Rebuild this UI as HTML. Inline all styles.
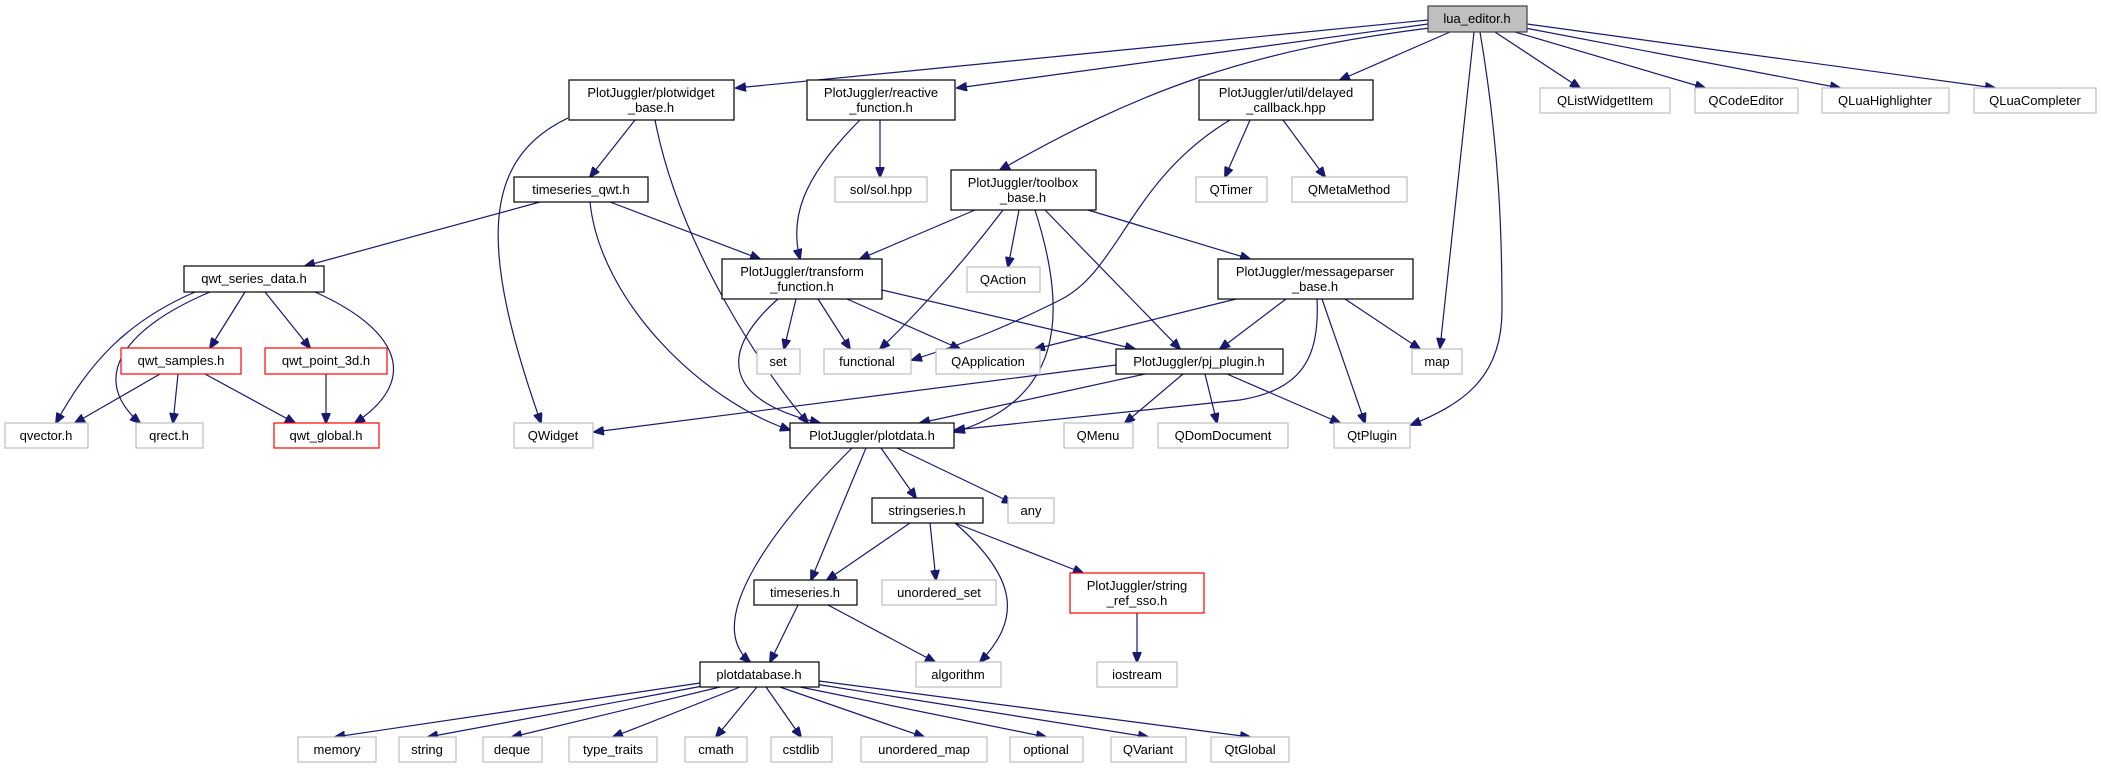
<!DOCTYPE html>
<html><head><meta charset="utf-8"><style>
html,body{margin:0;padding:0;background:#fff}
svg{display:block}
text{font-family:"Liberation Sans",sans-serif;font-size:13px;fill:#000;text-anchor:middle}
.e{fill:none;stroke:#191970;stroke-width:1.2}
.b{fill:#fff;stroke:#000;stroke-width:1.2}
.g{fill:#fff;stroke:#bfbfbf;stroke-width:1.2}
.r{fill:#fff;stroke:#ff0000;stroke-width:1.2}
</style></head><body>
<svg width="2101" height="768" viewBox="0 0 2101 768" xmlns="http://www.w3.org/2000/svg">
<defs><marker id="a" markerWidth="11" markerHeight="9" refX="10" refY="4.5" orient="auto" markerUnits="userSpaceOnUse"><path d="M0,0 L11,4.5 L0,9 z" fill="#191970" stroke="#191970"/></marker></defs>
<g class="e" marker-end="url(#a)">
<path d="M1428,20 L736,88"/>
<path d="M1428,24 L957,88"/>
<path d="M1430,28 C1250,50 1140,90 1000,170"/>
<path d="M1450,32 L1340,80"/>
<path d="M1495,32 L1580,88"/>
<path d="M1515,32 L1705,88"/>
<path d="M1525,28 L1840,88"/>
<path d="M1527,24 L1995,88"/>
<path d="M1474,32 L1440,348"/>
<path d="M1480,32 C1500,150 1502,240 1502,310 C1502,380 1460,405 1411,425"/>
<path d="M635,120 L590,177"/>
<path d="M568,118 C480,160 480,250 541,423"/>
<path d="M655,120 C680,250 770,380 808,423"/>
<path d="M880,120 L880,177"/>
<path d="M860,120 C800,180 790,220 800,259"/>
<path d="M540,202 L305,266"/>
<path d="M610,202 L760,259"/>
<path d="M590,202 C600,300 700,400 790,430"/>
<path d="M195,292 C130,320 90,360 56,423"/>
<path d="M210,292 C120,330 90,380 140,423"/>
<path d="M245,292 L210,348"/>
<path d="M265,292 L310,348"/>
<path d="M315,292 C400,330 420,380 355,423"/>
<path d="M160,374 L75,423"/>
<path d="M178,374 L173,423"/>
<path d="M205,374 L295,423"/>
<path d="M326,374 L326,423"/>
<path d="M975,210 L860,259"/>
<path d="M1003,210 C950,280 900,330 880,349"/>
<path d="M1019,210 L1008,267"/>
<path d="M1035,210 C1070,320 1060,400 955,432"/>
<path d="M1045,210 L1180,349"/>
<path d="M1088,210 L1250,259"/>
<path d="M1250,120 L1225,177"/>
<path d="M1283,120 L1325,177"/>
<path d="M1230,120 C1130,180 1120,270 1060,300 C1000,330 960,345 912,360"/>
<path d="M796,299 L784,349"/>
<path d="M818,299 L850,349"/>
<path d="M847,299 L960,349"/>
<path d="M882,290 L1135,349"/>
<path d="M778,299 C720,350 720,400 820,423"/>
<path d="M1236,299 L1035,349"/>
<path d="M1286,299 L1220,349"/>
<path d="M1317,299 C1320,360 1300,390 1240,400 L955,430"/>
<path d="M1322,299 L1365,423"/>
<path d="M1345,299 L1420,349"/>
<path d="M1116,365 L594,432"/>
<path d="M1145,374 L920,423"/>
<path d="M1183,374 L1125,423"/>
<path d="M1205,374 L1217,423"/>
<path d="M1227,374 L1340,423"/>
<path d="M852,448 C780,520 700,620 750,662"/>
<path d="M866,448 L811,580"/>
<path d="M881,448 L916,498"/>
<path d="M897,448 L1012,503"/>
<path d="M910,523 L827,580"/>
<path d="M930,523 L936,580"/>
<path d="M955,523 C1020,580 1020,620 980,662"/>
<path d="M955,523 L1083,573"/>
<path d="M798,605 L770,662"/>
<path d="M828,605 L935,662"/>
<path d="M1137,613 L1137,662"/>
<path d="M700,683 L335,737"/>
<path d="M703,686 L428,737"/>
<path d="M720,687 L512,737"/>
<path d="M740,687 L613,737"/>
<path d="M757,687 L716,737"/>
<path d="M766,687 L801,737"/>
<path d="M780,687 L924,737"/>
<path d="M800,687 L1046,737"/>
<path d="M815,684 L1148,737"/>
<path d="M819,681 L1250,737"/>
</g>
<!-- nodes -->
<rect x="1428" y="6" width="99" height="26" fill="#bfbfbf" stroke="#404040" stroke-width="1.2"/><text x="1477" y="23">lua_editor.h</text>
<rect class="b" x="569" y="80" width="165" height="40"/><text x="651" y="97">PlotJuggler/plotwidget</text><text x="651" y="112">_base.h</text>
<rect class="b" x="807" y="80" width="148" height="40"/><text x="881" y="97">PlotJuggler/reactive</text><text x="881" y="112">_function.h</text>
<rect class="b" x="1199" y="80" width="174" height="40"/><text x="1286" y="97">PlotJuggler/util/delayed</text><text x="1286" y="112">_callback.hpp</text>
<rect class="g" x="1540" y="88" width="130" height="25"/><text x="1605" y="105">QListWidgetItem</text>
<rect class="g" x="1695" y="88" width="103" height="25"/><text x="1746" y="105">QCodeEditor</text>
<rect class="g" x="1822" y="88" width="127" height="25"/><text x="1885" y="105">QLuaHighlighter</text>
<rect class="g" x="1974" y="88" width="122" height="25"/><text x="2035" y="105">QLuaCompleter</text>
<rect class="b" x="514" y="177" width="134" height="25"/><text x="581" y="194">timeseries_qwt.h</text>
<rect class="g" x="835" y="177" width="92" height="25"/><text x="881" y="194">sol/sol.hpp</text>
<rect class="b" x="951" y="170" width="145" height="40"/><text x="1023" y="187">PlotJuggler/toolbox</text><text x="1023" y="202">_base.h</text>
<rect class="g" x="1196" y="177" width="71" height="25"/><text x="1231" y="194">QTimer</text>
<rect class="g" x="1292" y="177" width="115" height="25"/><text x="1349" y="194">QMetaMethod</text>
<rect class="b" x="184" y="266" width="140" height="26"/><text x="254" y="283">qwt_series_data.h</text>
<rect class="b" x="722" y="259" width="160" height="40"/><text x="802" y="276">PlotJuggler/transform</text><text x="802" y="291">_function.h</text>
<rect class="g" x="967" y="267" width="73" height="25"/><text x="1003" y="284">QAction</text>
<rect class="b" x="1218" y="259" width="195" height="40"/><text x="1315" y="276">PlotJuggler/messageparser</text><text x="1315" y="291">_base.h</text>
<rect class="r" x="121" y="348" width="120" height="26"/><text x="181" y="365">qwt_samples.h</text>
<rect class="r" x="265" y="348" width="122" height="26"/><text x="326" y="365">qwt_point_3d.h</text>
<rect class="g" x="757" y="349" width="43" height="25"/><text x="778" y="366">set</text>
<rect class="g" x="824" y="349" width="87" height="25"/><text x="867" y="366">functional</text>
<rect class="g" x="936" y="349" width="104" height="25"/><text x="988" y="366">QApplication</text>
<rect class="b" x="1116" y="349" width="167" height="25"/><text x="1199" y="366">PlotJuggler/pj_plugin.h</text>
<rect class="g" x="1412" y="349" width="50" height="25"/><text x="1437" y="366">map</text>
<rect class="g" x="5" y="423" width="83" height="25"/><text x="46" y="440">qvector.h</text>
<rect class="g" x="136" y="423" width="67" height="25"/><text x="169" y="440">qrect.h</text>
<rect class="r" x="274" y="423" width="105" height="25"/><text x="326" y="440">qwt_global.h</text>
<rect class="g" x="514" y="423" width="79" height="25"/><text x="553" y="440">QWidget</text>
<rect class="b" x="790" y="423" width="164" height="25"/><text x="872" y="440">PlotJuggler/plotdata.h</text>
<rect class="g" x="1064" y="423" width="69" height="25"/><text x="1098" y="440">QMenu</text>
<rect class="g" x="1158" y="423" width="130" height="25"/><text x="1223" y="440">QDomDocument</text>
<rect class="g" x="1334" y="423" width="76" height="25"/><text x="1372" y="440">QtPlugin</text>
<rect class="b" x="872" y="498" width="111" height="25"/><text x="927" y="515">stringseries.h</text>
<rect class="g" x="1008" y="498" width="46" height="25"/><text x="1031" y="515">any</text>
<rect class="b" x="754" y="580" width="103" height="25"/><text x="805" y="597">timeseries.h</text>
<rect class="g" x="882" y="580" width="114" height="25"/><text x="939" y="597">unordered_set</text>
<rect class="r" x="1070" y="573" width="134" height="40"/><text x="1137" y="590">PlotJuggler/string</text><text x="1137" y="605">_ref_sso.h</text>
<rect class="b" x="700" y="662" width="119" height="25"/><text x="759" y="679">plotdatabase.h</text>
<rect class="g" x="916" y="662" width="85" height="25"/><text x="958" y="679">algorithm</text>
<rect class="g" x="1097" y="662" width="80" height="25"/><text x="1137" y="679">iostream</text>
<rect class="g" x="298" y="737" width="78" height="25"/><text x="337" y="754">memory</text>
<rect class="g" x="399" y="737" width="57" height="25"/><text x="427" y="754">string</text>
<rect class="g" x="483" y="737" width="59" height="25"/><text x="512" y="754">deque</text>
<rect class="g" x="569" y="737" width="88" height="25"/><text x="613" y="754">type_traits</text>
<rect class="g" x="685" y="737" width="62" height="25"/><text x="716" y="754">cmath</text>
<rect class="g" x="771" y="737" width="61" height="25"/><text x="801" y="754">cstdlib</text>
<rect class="g" x="861" y="737" width="126" height="25"/><text x="924" y="754">unordered_map</text>
<rect class="g" x="1010" y="737" width="73" height="25"/><text x="1046" y="754">optional</text>
<rect class="g" x="1111" y="737" width="75" height="25"/><text x="1148" y="754">QVariant</text>
<rect class="g" x="1211" y="737" width="78" height="25"/><text x="1250" y="754">QtGlobal</text>
</svg>
</body></html>
